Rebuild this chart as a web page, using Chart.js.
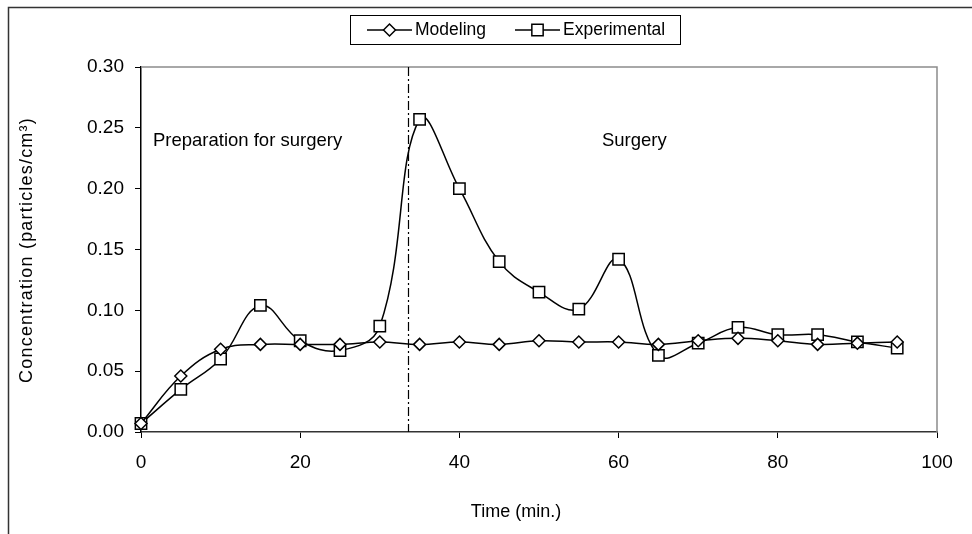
<!DOCTYPE html>
<html>
<head>
<meta charset="utf-8">
<script src="https://cdn.jsdelivr.net/npm/chart.js@4.4.1/dist/chart.umd.min.js"></script>
<style>
  html, body { margin: 0; padding: 0; background: #fff; }
  #wrap { width: 972px; height: 534px; position: relative; }
</style>
</head>
<body>
<div id="wrap"><canvas id="c" width="972" height="534"></canvas></div>
<script>
const times = [0, 5, 10, 15, 20, 25, 30, 35, 40, 45, 50, 55, 60, 65, 70, 75, 80, 85, 90, 95];
const modeling = [0.007, 0.046, 0.068, 0.072, 0.072, 0.072, 0.074, 0.072, 0.074, 0.072, 0.075, 0.074, 0.074, 0.072, 0.075, 0.077, 0.075, 0.072, 0.073, 0.074];
const experimental = [0.007, 0.035, 0.060, 0.104, 0.075, 0.067, 0.087, 0.257, 0.200, 0.140, 0.115, 0.101, 0.142, 0.063, 0.073, 0.086, 0.080, 0.080, 0.074, 0.069];
const seriesNames = ['Modeling', 'Experimental'];
const xTicks = [0, 20, 40, 60, 80, 100];
const yTicks = [0.00, 0.05, 0.10, 0.15, 0.20, 0.25, 0.30];
const surgeryStart = 33.5;
const phaseLabels = ['Preparation for surgery', 'Surgery'];
const phaseLabelX = [1.5, 57.9];
const phaseLabelY = 0.235;
const xTitle = 'Time (min.)';
const yTitle = 'Concentration (particles/cm³)';

const FONT = '"Liberation Sans", Arial, sans-serif';

function toPoints(ys) { return times.map((t, i) => ({ x: t, y: ys[i] })); }

const decor = {
  id: 'decor',
  afterDraw(chart) {
    const ctx = chart.ctx;
    const a = chart.chartArea;
    const xs = chart.scales.x, ys = chart.scales.y;
    ctx.save();
    // outer frame
    ctx.strokeStyle = '#333';
    ctx.lineWidth = 1.5;
    ctx.strokeRect(8.5, 7.5, 1000, 600);
    // plot top/right border (grey)
    ctx.strokeStyle = '#8c8c8c';
    ctx.lineWidth = 1.5;
    ctx.beginPath();
    ctx.moveTo(a.left, a.top);
    ctx.lineTo(a.right, a.top);
    ctx.lineTo(a.right, a.bottom);
    ctx.stroke();
    // divider
    const dx = Math.round(xs.getPixelForValue(surgeryStart)) + 0.5;
    ctx.strokeStyle = '#000';
    ctx.lineWidth = 1.2;
    ctx.setLineDash([9, 3, 2, 3]);
    ctx.beginPath();
    ctx.moveTo(dx, a.top);
    ctx.lineTo(dx, a.bottom);
    ctx.stroke();
    ctx.setLineDash([]);
    // phase labels
    ctx.fillStyle = '#000';
    ctx.font = '18.5px ' + FONT;
    ctx.textBaseline = 'alphabetic';
    ctx.textAlign = 'left';
    phaseLabels.forEach((t, i) => {
      ctx.fillText(t, xs.getPixelForValue(phaseLabelX[i]), ys.getPixelForValue(phaseLabelY));
    });
    // axis titles
    ctx.font = '18px ' + FONT;
    ctx.textAlign = 'center';
    ctx.textBaseline = 'middle';
    ctx.fillText(xTitle, 516, 512);
    ctx.save();
    ctx.translate(27, 250);
    ctx.rotate(-Math.PI / 2);
    ctx.letterSpacing = '1.2px';
    ctx.fillText(yTitle, 0, 0);
    ctx.restore();
    // legend
    ctx.strokeStyle = '#000';
    ctx.lineWidth = 1;
    ctx.strokeRect(350.5, 15.5, 330, 29);
    const items = [
      { x0: 367, x1: 412, tx: 415, style: 'rectRot', r: 6 },
      { x0: 515, x1: 560, tx: 563, style: 'rect', r: 8 }
    ];
    ctx.font = '17.5px ' + FONT;
    ctx.textAlign = 'left';
    ctx.textBaseline = 'middle';
    items.forEach((it, i) => {
      ctx.strokeStyle = '#000';
      ctx.lineWidth = 1.5;
      ctx.beginPath();
      ctx.moveTo(it.x0, 30);
      ctx.lineTo(it.x1, 30);
      ctx.stroke();
      ctx.fillStyle = '#fff';
      Chart.helpers.drawPoint(ctx, { pointStyle: it.style, radius: it.r, borderWidth: 1.5, rotation: 0 }, (it.x0 + it.x1) / 2, 30);
      ctx.fillStyle = '#000';
      ctx.fillText(seriesNames[i], it.tx, 30);
    });
    ctx.restore();
  }
};

new Chart(document.getElementById('c'), {
  type: 'line',
  data: {
    datasets: [
      {
        label: seriesNames[0],
        data: toPoints(modeling),
        borderColor: '#000',
        borderWidth: 1.5,
        backgroundColor: '#fff',
        pointStyle: 'rectRot',
        pointRadius: 6,
        pointBorderWidth: 1.5,
        pointBackgroundColor: '#fff',
        pointBorderColor: '#000',
        tension: 0.4,
        fill: false,
        clip: false
      },
      {
        label: seriesNames[1],
        data: toPoints(experimental),
        borderColor: '#000',
        borderWidth: 1.5,
        backgroundColor: '#fff',
        pointStyle: 'rect',
        pointRadius: 8,
        pointBorderWidth: 1.5,
        pointBackgroundColor: '#fff',
        pointBorderColor: '#000',
        tension: 0.4,
        fill: false,
        clip: false
      }
    ]
  },
  options: {
    responsive: false,
    animation: false,
    layout: { padding: { top: 67, right: 35, bottom: 0, left: 0 } },
    plugins: { legend: { display: false }, tooltip: { enabled: false } },
    scales: {
      x: {
        type: 'linear',
        min: 0, max: 100,
        afterFit(s) { s.height = 102; },
        afterBuildTicks(s) { s.ticks = xTicks.map(v => ({ value: v })); },
        ticks: { color: '#000', font: { family: FONT, size: 19 }, padding: 13, maxRotation: 0, callback: v => String(v) },
        grid: { drawOnChartArea: false, drawTicks: true, tickLength: 6, tickColor: '#000', tickWidth: 1 },
        border: { display: true, color: '#333', width: 1.5 }
      },
      y: {
        type: 'linear',
        min: 0, max: 0.30,
        afterFit(s) { s.width = 141; },
        afterBuildTicks(s) { s.ticks = yTicks.map(v => ({ value: v })); },
        ticks: { color: '#000', font: { family: FONT, size: 19 }, padding: 11, callback: v => Number(v).toFixed(2) },
        grid: { drawOnChartArea: false, drawTicks: true, tickLength: 6, tickColor: '#000', tickWidth: 1 },
        border: { display: true, color: '#000', width: 1.5 }
      }
    }
  },
  plugins: [decor]
});
</script>
</body>
</html>
